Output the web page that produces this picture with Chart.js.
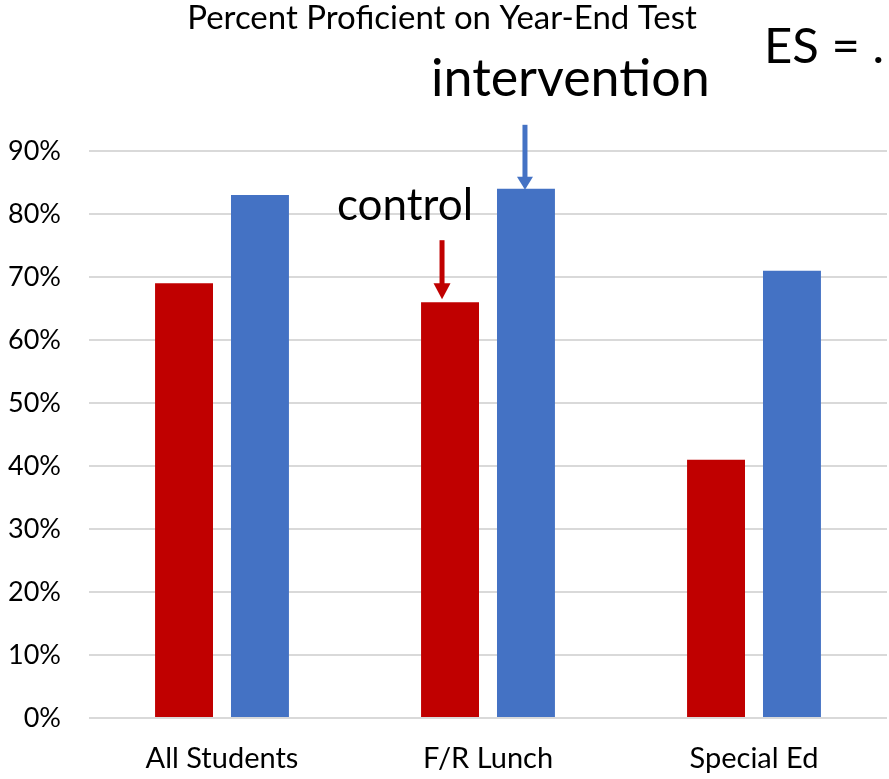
<!DOCTYPE html>
<html>
<head>
<meta charset="utf-8">
<script src="https://cdn.jsdelivr.net/npm/chart.js@4"></script>
<style>
html,body{margin:0;padding:0;background:#fff;}
#wrap{width:889px;height:779px;position:relative;}
</style>
</head>
<body>
<div id="wrap"><canvas id="c"></canvas></div>
<script>
const categories = ["All Students", "F/R Lunch", "Special Ed"];
const controlValues = [69, 66, 41];
const interventionValues = [83, 84, 71];
const yTicks = [0, 10, 20, 30, 40, 50, 60, 70, 80, 90];
const titleText = "Percent Proficient on Year-End Test";
const esText = "ES = .";
const controlLabel = "control";
const interventionLabel = "intervention";

const FONT = "Lato, 'Open Sans', sans-serif";

const annot = {
  id: 'annot',
  afterDatasetsDraw(chart) {
    const ctx = chart.ctx;
    ctx.save();
    ctx.fillStyle = '#000';
    ctx.textBaseline = 'alphabetic';
    ctx.textAlign = 'center';
    ctx.font = "33px " + FONT;
    ctx.fillText(titleText, 442, 29);
    ctx.textAlign = 'left';
    ctx.font = "49px " + FONT;
    ctx.fillText(esText, 764, 63);
    ctx.font = "52px " + FONT;
    ctx.fillText(interventionLabel, 431, 96);
    ctx.font = "44px " + FONT;
    ctx.fillText(controlLabel, 337, 220);

    const redBar = chart.getDatasetMeta(0).data[1];
    const blueBar = chart.getDatasetMeta(1).data[1];
    function arrow(x, y0, y1, color, hw, hh) {
      ctx.strokeStyle = color; ctx.fillStyle = color;
      ctx.lineWidth = 5;
      ctx.beginPath(); ctx.moveTo(x, y0); ctx.lineTo(x, y1 - hh + 1); ctx.stroke();
      ctx.beginPath(); ctx.moveTo(x - hw / 2, y1 - hh); ctx.lineTo(x + hw / 2, y1 - hh); ctx.lineTo(x, y1); ctx.closePath(); ctx.fill();
    }
    arrow(redBar.x - 8, redBar.y - 62, redBar.y - 3, '#C00000', 17, 16);
    arrow(blueBar.x - 1, blueBar.y - 64, blueBar.y + 1, '#4472C4', 16, 13);
    ctx.restore();
  }
};

new Chart(document.getElementById('c'), {
  type: 'bar',
  data: {
    labels: categories,
    datasets: [
      { label: 'control', data: controlValues, backgroundColor: '#C00000', categoryPercentage: 0.571, barPercentage: 0.763 },
      { label: 'intervention', data: interventionValues, backgroundColor: '#4472C4', categoryPercentage: 0.571, barPercentage: 0.763 }
    ]
  },
  options: {
    responsive: true,
    maintainAspectRatio: false,
    animation: false,
    devicePixelRatio: 1,
    layout: { padding: { top: 151, right: 2, left: 0, bottom: 3 } },
    plugins: { legend: { display: false }, title: { display: false }, tooltip: { enabled: false } },
    scales: {
      x: {
        afterFit(axis) { axis.height = 58; },
        grid: { display: false, drawTicks: false },
        border: { display: false },
        ticks: { color: '#000', font: { family: FONT, size: 29 }, padding: 23, maxRotation: 0 }
      },
      y: {
        min: 0, max: 90,
        afterBuildTicks(axis) { axis.ticks = yTicks.map(v => ({ value: v })); },
        afterFit(axis) { axis.width = 89; },
        grid: { color: '#d9d9d9', lineWidth: 2, drawTicks: false },
        border: { display: false },
        ticks: { color: '#000', font: { family: FONT, size: 27 }, padding: 28, callback: v => v + '%' }
      }
    }
  },
  plugins: [annot]
});
</script>
</body>
</html>
